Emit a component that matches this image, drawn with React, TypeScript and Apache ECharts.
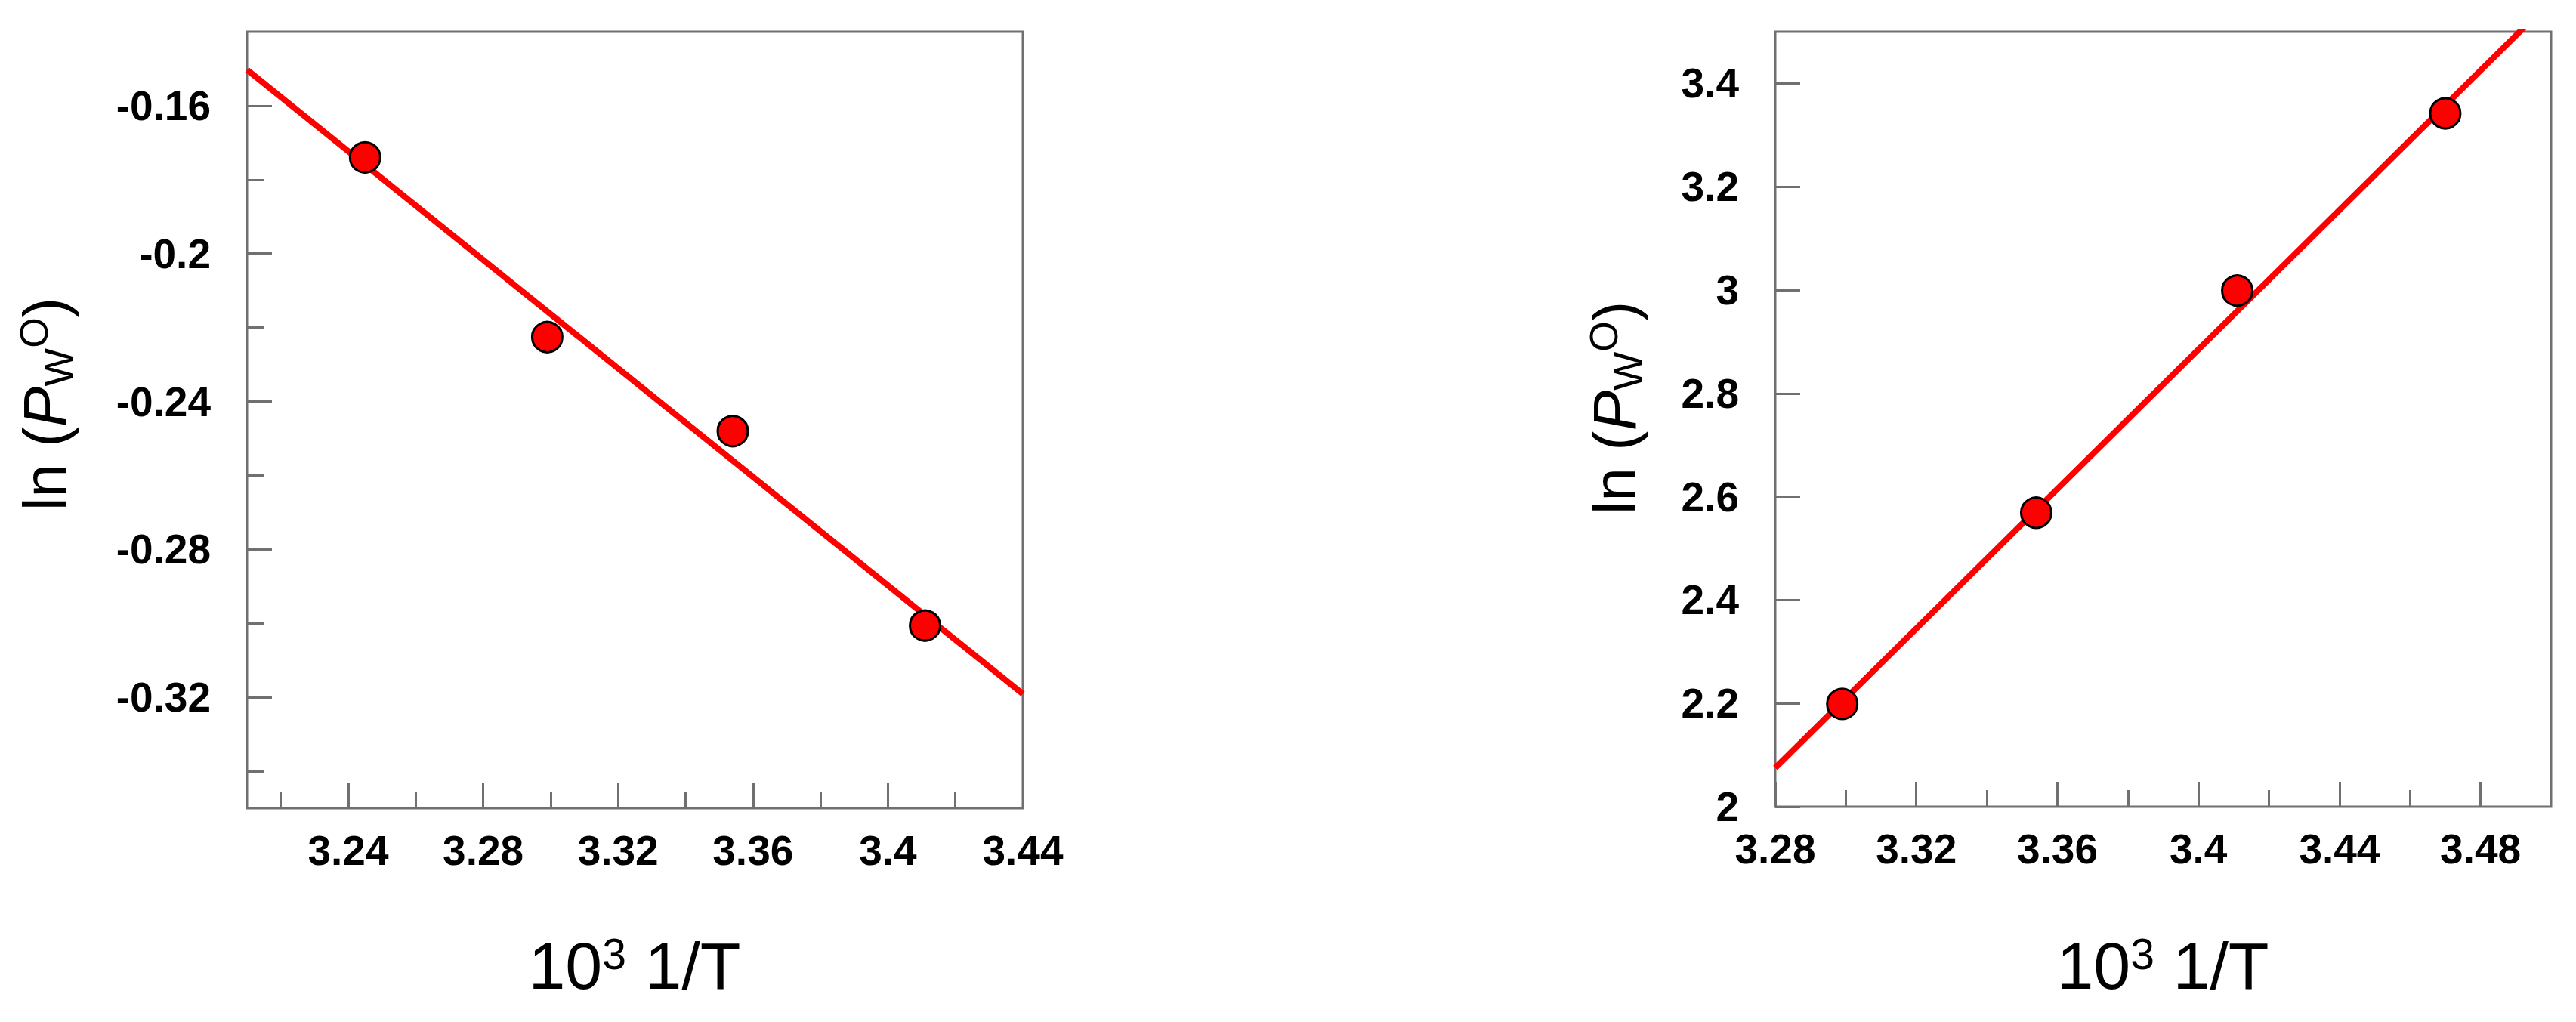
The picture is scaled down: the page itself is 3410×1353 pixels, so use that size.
import React, { useEffect, useRef } from "react";
import * as echarts from "echarts";

// ---- Data ----
const leftX = [3.245, 3.299, 3.354, 3.411];
const leftY = [-0.174, -0.2226, -0.248, -0.3006];
const leftFitX = [3.21, 3.44];
const leftFitY = [-0.1503, -0.3191];

const rightX = [3.299, 3.354, 3.411, 3.47];
const rightY = [2.199, 2.569, 2.999, 3.342];
const rightFitX = [3.28, 3.5];
const rightFitY = [2.075, 3.56];

// ---- Ticks ----
const leftXMajor = [3.24, 3.28, 3.32, 3.36, 3.4, 3.44];
const leftXMinor = [3.22, 3.26, 3.3, 3.34, 3.38, 3.42];
const leftYMajor = [-0.32, -0.28, -0.24, -0.2, -0.16];
const leftYMinor = [-0.34, -0.3, -0.26, -0.22, -0.18];

const rightXMajor = [3.28, 3.32, 3.36, 3.4, 3.44, 3.48];
const rightXMinor = [3.3, 3.34, 3.38, 3.42, 3.46];
const rightYMajor = [2, 2.2, 2.4, 2.6, 2.8, 3, 3.2, 3.4];

const FONT = "'Liberation Sans', Arial, Helvetica, sans-serif";
const FRAME = "#707070";
const RED = "#ff0000";
const LABEL_SIZE = 55;

const fmt = (v: number) => String(parseFloat(Number(v).toFixed(4)));

function pairs(xs: number[], ys: number[]) {
  return xs.map((x, i) => [x, ys[i]]);
}

function majorX(gridIndex: number, min: number, max: number, ticks: number[]) {
  return {
    type: "value",
    gridIndex,
    min,
    max,
    position: "bottom",
    axisLine: { show: false },
    splitLine: { show: false },
    axisTick: {
      show: true,
      inside: true,
      length: 33,
      customValues: ticks,
      lineStyle: { color: FRAME, width: 3 },
    },
    axisLabel: {
      show: true,
      customValues: ticks,
      margin: 28,
      fontSize: LABEL_SIZE,
      fontWeight: "bold",
      fontFamily: FONT,
      color: "#000",
      formatter: fmt,
    },
  };
}

function minorX(gridIndex: number, min: number, max: number, ticks: number[]) {
  return {
    type: "value",
    gridIndex,
    min,
    max,
    position: "bottom",
    axisLine: { show: false },
    splitLine: { show: false },
    axisTick: {
      show: true,
      inside: true,
      length: 22,
      customValues: ticks,
      lineStyle: { color: FRAME, width: 3 },
    },
    axisLabel: { show: false },
  };
}

function majorY(gridIndex: number, min: number, max: number, ticks: number[]) {
  return {
    type: "value",
    gridIndex,
    min,
    max,
    position: "left",
    axisLine: { show: false },
    splitLine: { show: false },
    axisTick: {
      show: true,
      inside: true,
      length: 33,
      customValues: ticks,
      lineStyle: { color: FRAME, width: 3 },
    },
    axisLabel: {
      show: true,
      customValues: ticks,
      margin: 48,
      fontSize: LABEL_SIZE,
      fontWeight: "bold",
      fontFamily: FONT,
      color: "#000",
      formatter: fmt,
    },
  };
}

function minorY(gridIndex: number, min: number, max: number, ticks: number[]) {
  return {
    type: "value",
    gridIndex,
    min,
    max,
    position: "left",
    axisLine: { show: false },
    splitLine: { show: false },
    axisTick: {
      show: true,
      inside: true,
      length: 22,
      customValues: ticks,
      lineStyle: { color: FRAME, width: 3 },
    },
    axisLabel: { show: false },
  };
}

const yTitleRich = {
  a: { fontSize: 80, fontFamily: FONT, color: "#000", lineHeight: 100 },
  p: { fontSize: 80, fontFamily: FONT, fontStyle: "italic", color: "#000", lineHeight: 100 },
  w: { fontSize: 54, fontFamily: FONT, color: "#000", height: 64, lineHeight: 64, verticalAlign: "bottom" },
  o: { fontSize: 52, fontFamily: FONT, color: "#000", height: 72, lineHeight: 72, verticalAlign: "top" },
};
const yTitleText = "{a|ln (}{p|P}{w|W}{o|O}{a|)}";

const xTitleRich = {
  a: { fontSize: 88, fontFamily: FONT, color: "#000", lineHeight: 100 },
  s: { fontSize: 57, fontFamily: FONT, color: "#000", height: 70, lineHeight: 70, verticalAlign: "top" },
};
const xTitleText = "{a|10}{s|3}{a| 1/T}";

export default function App() {
  const ref = useRef<HTMLDivElement>(null);

  useEffect(() => {
    document.body.style.margin = "0";
    document.body.style.overflow = "hidden";
    if (!ref.current) return;
    const chart = echarts.init(ref.current, undefined, { renderer: "svg" });

    const grids = [
      { left: 327, top: 42, width: 1027, height: 1028 },
      { left: 2350, top: 42, width: 1027, height: 1026 },
    ];

    const option: any = {
      animation: false,
      backgroundColor: "#ffffff",
      grid: grids.map((g) => ({
        ...g,
        show: true,
        borderColor: FRAME,
        borderWidth: 3,
        backgroundColor: "transparent",
        containLabel: false,
      })),
      xAxis: [
        majorX(0, 3.21, 3.44, leftXMajor),
        minorX(0, 3.21, 3.44, leftXMinor),
        majorX(1, 3.28, 3.5, rightXMajor),
        minorX(1, 3.28, 3.5, rightXMinor),
      ],
      yAxis: [
        majorY(0, -0.35, -0.14, leftYMajor),
        minorY(0, -0.35, -0.14, leftYMinor),
        majorY(1, 2, 3.5, rightYMajor),
      ],
      series: [
        {
          type: "line",
          xAxisIndex: 0,
          yAxisIndex: 0,
          data: pairs(leftFitX, leftFitY),
          symbol: "none",
          clip: true,
          z: 2,
          lineStyle: { color: RED, width: 8 },
        },
        {
          type: "scatter",
          xAxisIndex: 0,
          yAxisIndex: 0,
          data: pairs(leftX, leftY),
          symbol: "circle",
          symbolSize: 40,
          z: 3,
          itemStyle: { color: RED, borderColor: "#000", borderWidth: 3, opacity: 1 },
        },
        {
          type: "line",
          xAxisIndex: 2,
          yAxisIndex: 2,
          data: pairs(rightFitX, rightFitY),
          symbol: "none",
          clip: true,
          z: 2,
          lineStyle: { color: RED, width: 8 },
        },
        {
          type: "scatter",
          xAxisIndex: 2,
          yAxisIndex: 2,
          data: pairs(rightX, rightY),
          symbol: "circle",
          symbolSize: 40,
          z: 3,
          itemStyle: { color: RED, borderColor: "#000", borderWidth: 3, opacity: 1 },
        },
      ],
      graphic: [
        {
          type: "text",
          x: 59,
          y: 535,
          rotation: Math.PI / 2,
          style: {
            text: yTitleText,
            rich: yTitleRich,
            align: "center",
            verticalAlign: "middle",
            fill: "#000",
          },
        },
        {
          type: "text",
          x: 2137,
          y: 540,
          rotation: Math.PI / 2,
          style: {
            text: yTitleText,
            rich: yTitleRich,
            align: "center",
            verticalAlign: "middle",
            fill: "#000",
          },
        },
        {
          type: "text",
          x: 840,
          y: 1278,
          style: {
            text: xTitleText,
            rich: xTitleRich,
            align: "center",
            verticalAlign: "middle",
            fill: "#000",
          },
        },
        {
          type: "text",
          x: 2863,
          y: 1278,
          style: {
            text: xTitleText,
            rich: xTitleRich,
            align: "center",
            verticalAlign: "middle",
            fill: "#000",
          },
        },
      ],
    };

    chart.setOption(option);
    return () => {
      chart.dispose();
    };
  }, []);

  return <div ref={ref} style={{ width: 3410, height: 1353 }} />;
}
